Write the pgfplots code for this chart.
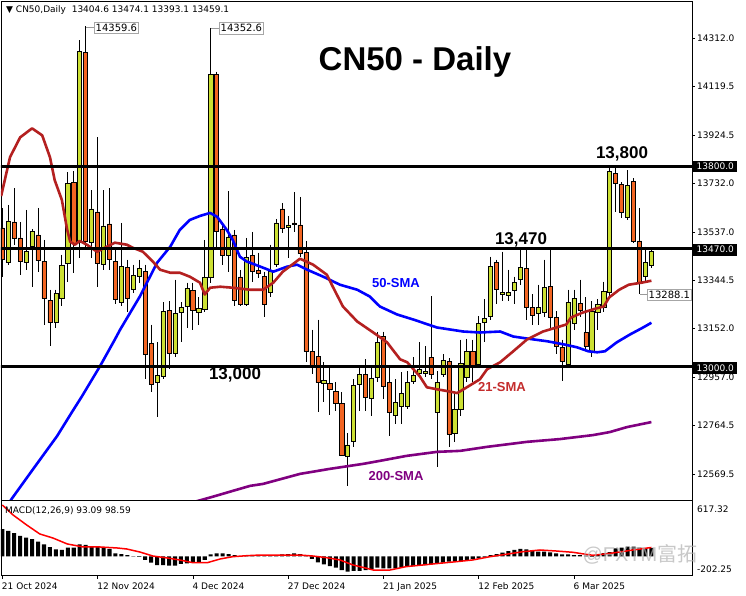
\documentclass[border=0pt]{standalone}
\usepackage{pgfplots}
\pgfplotsset{compat=1.18}
\usepackage{pgfplotstable}
\usepackage{fontspec}
\setmainfont{DejaVu Sans}
\newfontfamily\lsans{Liberation Sans}
\newfontfamily\cjk{Noto Sans CJK SC}
\definecolor{bullc}{RGB}{204,224,51}
\definecolor{bearc}{RGB}{242,101,34}
\definecolor{smaA}{RGB}{180,32,32}
\definecolor{smaAt}{RGB}{196,44,44}
\definecolor{smaC}{RGB}{128,0,128}

\pgfplotstableread{
i o h l c
0 13553 13633 13358 13426
1 13414 13645 13406 13581
2 13577 13712 13486 13513
3 13513 13577 13366 13418
4 13414 13625 13386 13458
5 13479 13549 13318 13538
6 13525 13633 13378 13422
7 13418 13505 13167 13271
8 13263 13306 13080 13175
9 13175 13306 13155 13291
10 13271 13446 13239 13402
11 13410 13776 13338 13732
12 13736 13780 13374 13490
13 13494 14304 13434 14258
14 14254 14359.6 13466 13498
15 13494 13704 13434 13629
16 13617 13915 13318 13410
17 13406 13704 13386 13561
18 13569 13712 13386 13426
19 13418 13466 13247 13267
20 13255 13573 13239 13398
21 13394 13426 13215 13271
22 13306 13406 13294 13362
23 13358 13426 13334 13390
24 13378 13406 12948 13048
25 13092 13167 12897 12928
26 12936 13096 12797 12964
27 12960 13255 12948 13219
28 13223 13259 12988 13052
29 13052 13346 13036 13211
30 13215 13255 13096 13235
31 13239 13334 13155 13310
32 13302 13334 13147 13223
33 13215 13275 13167 13231
34 13227 13505 13215 13354
35 13354 14352.6 13334 14166
36 14166 14178 13466 13541
37 13549 13577 13406 13442
38 13442 13700 13378 13517
39 13525 13545 13239 13263
40 13357 13385 13239 13247
41 13247 13513 13239 13434
42 13442 13537 13338 13378
43 13382 13454 13354 13370
44 13358 13378 13195 13247
45 13294 13486 13275 13378
46 13406 13589 13398 13573
47 13629 13653 13533 13553
48 13557 13601 13434 13565
49 13573 13696 13537 13569
50 13565 13677 13438 13450
51 13454 13501 13016 13060
52 13060 13147 12968 13004
53 13040 13187 12817 12936
54 12932 13016 12857 12944
55 12932 13000 12805 12908
56 12901 12936 12821 12853
57 12853 12897 12642 12646
58 12642 12733 12522 12686
59 12702 12948 12678 12924
60 12928 12996 12821 12968
61 12968 13028 12821 12877
62 12873 12996 12801 12952
63 12956 13139 12936 13096
64 13119 13139 12869 12920
65 12936 13000 12721 12817
66 12805 12948 12769 12857
67 12841 12976 12769 12893
68 12841 12980 12829 12936
69 12940 13036 12928 12964
70 12972 13096 12956 12988
71 12972 13080 12956 12980
72 13036 13279 12948 12968
73 12817 12980 12598 12936
74 12968 13048 12956 13024
75 13020 13032 12678 12729
76 12733 12888 12698 12829
77 12829 13107 12801 13012
78 12956 13111 12936 13060
79 13060 13107 12936 13000
80 13008 13199 13000 13171
81 13175 13267 13096 13191
82 13199 13438 13187 13398
83 13414 13426 13247 13306
84 13287 13458 13259 13294
85 13283 13386 13259 13294
86 13302 13358 13247 13334
87 13346 13466 13326 13394
88 13390 13466 13187 13235
89 13235 13287 13167 13203
90 13211 13326 13167 13235
91 13215 13426 13195 13314
92 13318 13466 13147 13195
93 13195 13219 13048 13080
94 13076 13107 12940 13020
95 13008 13306 12996 13255
96 13171 13306 13147 13271
97 13251 13346 13195 13223
98 13135 13275 13068 13080
99 13060 13259 13036 13219
100 13215 13267 13147 13247
101 13235 13338 13215 13298
102 13294 13792 13275 13780
103 13772 13796 13617 13732
104 13728 13736 13593 13617
105 13597 13784 13585 13724
106 13740 13752 13493 13501
107 13501 13633 13288.1 13334
108 13358 13478 13338 13414
109 13404.6 13474.1 13393.1 13459.1
}\candles

\pgfplotstableread{
i p
-0.2 13680
1.3 13836
3.0 13915
5.0 13951
6.7 13923
8.0 13836
8.8 13744
10.0 13665
10.9 13545
11.4 13498
12.2 13486
13.0 13501
14.2 13486
15.9 13458
16.9 13470
18.9 13494
20.9 13486
21.9 13474
23.6 13458
25.3 13418
26.5 13386
28.2 13374
29.8 13374
31.5 13358
33.2 13334
34.0 13287
34.9 13314
36.6 13318
38.7 13314
41.6 13306
43.8 13306
45.5 13334
47.1 13378
50.0 13430
52.2 13406
54.5 13366
55.5 13318
57.2 13239
59.6 13179
62.3 13135
64.6 13096
66.8 13028
68.0 13016
70.1 12960
71.3 12916
73.0 12908
74.7 12901
76.4 12893
78.0 12916
80.2 12948
81.4 12988
83.6 13016
85.8 13060
88.1 13107
90.8 13139
93.6 13159
94.7 13167
95.5 13195
97.5 13215
99.7 13231
101.0 13239
101.9 13275
103.6 13306
105.2 13326
107.3 13334
109.0 13342
}\smaAtab

\pgfplotstableread{
i p
0 12415
1.6 12471
5.2 12590
9.2 12721
11.7 12817
13.4 12881
16.4 13000
18.9 13107
19.8 13147
23.1 13279
26.0 13414
28.2 13478
29.8 13545
31.5 13585
33.2 13601
34.9 13613
36.1 13597
37.7 13545
38.7 13505
39.9 13438
41.1 13418
41.6 13414
43.8 13394
45.5 13378
47.8 13398
49.5 13406
51.2 13386
53.9 13358
56.7 13326
59.6 13306
61.7 13279
63.4 13239
66.3 13207
69.0 13187
73.0 13155
77.4 13139
80.2 13135
83.6 13139
85.8 13119
88.1 13111
91.5 13100
94.2 13088
96.5 13076
98.4 13060
99.9 13056
101.2 13060
103.2 13096
105.4 13127
107.6 13155
109.0 13174
}\smaBtab

\pgfplotstableread{
i p
30.0 12445
33.0 12463
35.4 12479
38.7 12502
41.6 12522
43.8 12530
50.0 12570
55.0 12590
60.6 12610
63.4 12622
67.9 12642
73.0 12658
76.9 12662
81.4 12678
88.1 12698
93.6 12709
99.2 12725
102.0 12737
104.9 12757
109.0 12777
}\smaCtab

\pgfplotstableread{
i v
0 300
1 279
2 254
3 224
4 205
5 191
6 162
7 133
8 101
9 79
10 71
11 96
12 96
13 133
14 126
15 107
16 101
17 96
18 82
19 35
20 27
21 16
22 5
23 -3
24 -38
25 -68
26 -93
27 -93
28 -101
29 -101
30 -82
31 -74
32 -68
33 -68
34 -38
35 24
36 35
37 35
38 27
39 16
40 -3
41 5
42 16
43 16
44 16
45 16
46 16
47 24
48 27
49 35
50 27
51 16
52 -27
53 -63
54 -85
55 -104
56 -122
57 -148
58 -166
59 -158
60 -158
61 -148
62 -137
63 -122
64 -129
65 -129
66 -129
67 -122
68 -111
69 -104
70 -93
71 -93
72 -85
73 -74
74 -68
75 -57
76 -57
77 -49
78 -38
79 -27
80 -20
81 -3
82 16
83 27
84 42
85 60
86 71
87 82
88 79
89 60
90 52
91 52
92 46
93 35
94 24
95 24
96 16
97 16
98 9
99 -3
100 16
101 38
102 49
103 90
104 96
105 107
106 107
107 98
108 90
109 93.09
}\macdhist

\pgfplotstableread{
i v
0 563
1.8 454
4.1 344
6.3 246
8.5 202
10.9 137
13.6 104
16.4 104
19.3 93
20.9 82
23.1 49
25.3 5
27.7 -16
29.8 -38
32.0 -68
34.4 -68
36.6 -27
38.7 -2
41.1 9
43.3 16
50.0 16
52.2 5
54.5 -13
56.7 -38
58.9 -93
61.2 -129
62.3 -148
65.1 -148
67.8 -111
70.6 -93
73.5 -74
76.2 -57
79.0 -38
81.9 -2
84.6 24
87.4 52
90.3 71
93.0 60
95.8 46
98.0 24
99.2 13
102.5 38
105.9 71
109.0 98.59
}\macdsig

\pgfplotsset{
  chartbox/.style={scale only axis, width=691pt, height=499pt,
    at={(1pt,96pt)}, anchor=south west,
    xmin=-0.218, xmax=115.82, ymin=12465.6, ymax=14460,
    enlargelimits=false},
}

\begin{document}
\begin{tikzpicture}
\path[use as bounding box, fill=white] (0,0) rectangle (746pt,596pt);

% wicks
\begin{axis}[chartbox, hide axis]
\addplot[draw=none, error bars/.cd, y dir=minus, y explicit, error mark=none,
  error bar style={draw=black, solid, line width=0.8pt}]
  table[x=i, y=h, y error minus expr={\thisrow{h}-\thisrow{l}}] {\candles};
\end{axis}

% bodies
\begin{axis}[chartbox, hide axis, ybar stacked, bar width=0.7]
\addplot[draw=none, fill=none] table[x=i, y expr={min(\thisrow{o},\thisrow{c})}] {\candles};
\addplot[draw=black, line width=0.6pt, fill=bullc] table[x=i, y expr={max(\thisrow{c}-\thisrow{o},0)}] {\candles};
\addplot[draw=black, line width=0.6pt, fill=bearc] table[x=i, y expr={max(\thisrow{o}-\thisrow{c},0)}] {\candles};
\end{axis}

% main
\begin{axis}[chartbox, clip mode=individual,
  axis line style={line width=0.8pt},
  xtick=\empty,
  ytick={12569.5,12764.5,12957,13152,13344.5,13537,13732,13924.5,14119.5,14312},
  scaled y ticks=false,
  ytick pos=right, yticklabel pos=right,
  tick align=outside, major tick length=3pt,
  ytick style={black, line width=0.6pt},
  yticklabel style={font=\fontsize{9}{10}\selectfont, inner xsep=2pt,
    /pgf/number format/.cd, fixed, fixed zerofill, precision=1, 1000 sep={}, assume math mode=true},
]
\addplot[smaC, line width=2.6pt, line join=round] table[x=i, y=p] {\smaCtab};
\addplot[blue, line width=2.6pt, line join=round] table[x=i, y=p] {\smaBtab};
\addplot[smaA, line width=2.6pt, line join=round] table[x=i, y=p] {\smaAtab};
\addplot[black, line width=3.2pt] coordinates {(-2,13800) (118,13800)};
\addplot[black, line width=3.2pt] coordinates {(-2,13470) (118,13470)};
\addplot[black, line width=3.2pt] coordinates {(-2,13000) (118,13000)};
\end{axis}

% MACD
\begin{axis}[scale only axis, width=691pt, height=75pt, at={(1pt,21pt)}, anchor=south west,
  xmin=-0.218, xmax=115.82, ymin=-202.25, ymax=617.32, enlargelimits=false,
  axis line style={line width=0.8pt},
  ytick=\empty,
  xtick={0,16,32,48,64,80,96},
  xticklabels={21 Oct 2024,12 Nov 2024,4 Dec 2024,27 Dec 2024,21 Jan 2025,12 Feb 2025,6 Mar 2025},
  xtick pos=left, tick align=outside, major tick length=4pt,
  xtick style={black, line width=0.6pt},
  xticklabel style={font=\fontsize{9}{10}\selectfont, anchor=north west, inner xsep=0pt, xshift=-0.5pt},
]
\addplot[ybar, bar width=0.68, fill=black, draw=none] table[x=i, y=v] {\macdhist};
\addplot[red, line width=1.5pt] table[x=i, y=v] {\macdsig};
\end{axis}

% annotations
\node[anchor=west, font=\fontsize{9}{10}\selectfont, inner sep=0pt] at (6pt,586pt) {▼ CN50,Daily\ \ 13404.6 13474.1 13393.1 13459.1};
\node[anchor=base, font=\lsans\bfseries\fontsize{33}{36}\selectfont] at (415pt,525pt) {CN50 - Daily};
\node[anchor=base, font=\lsans\bfseries\fontsize{17}{20}\selectfont] at (622pt,437pt) {13,800};
\node[anchor=base, font=\lsans\bfseries\fontsize{17}{20}\selectfont] at (521pt,351pt) {13,470};
\node[anchor=base, font=\lsans\bfseries\fontsize{17}{20}\selectfont] at (235pt,216pt) {13,000};
\node[anchor=base, text=blue, font=\lsans\bfseries\fontsize{13}{15}\selectfont] at (396pt,308pt) {50-SMA};
\node[anchor=base, text=smaAt, font=\lsans\bfseries\fontsize{13}{15}\selectfont] at (502pt,204.3pt) {21-SMA};
\node[anchor=base, text=smaC, font=\lsans\bfseries\fontsize{13}{15}\selectfont] at (396pt,115.3pt) {200-SMA};

\node[anchor=west, fill=black, text=white, font=\fontsize{9}{10}\selectfont, inner xsep=3.5pt, inner ysep=2.5pt] at (693pt,429.5pt) {13800.0};
\node[anchor=west, fill=black, text=white, font=\fontsize{9}{10}\selectfont, inner xsep=3.5pt, inner ysep=2.5pt] at (693pt,346.3pt) {13470.0};
\node[anchor=west, fill=black, text=white, font=\fontsize{9}{10}\selectfont, inner xsep=3.5pt, inner ysep=2.5pt] at (693pt,228pt) {13000.0};

\draw[gray!80, line width=0.7pt] (86pt,569pt) -- (94pt,569pt);
\node[anchor=west, fill=white, draw=gray!70, font=\fontsize{10}{11}\selectfont, inner xsep=1.5pt, inner ysep=2pt] at (94pt,568.5pt) {14359.6};
\draw[gray!80, line width=0.7pt] (211pt,568pt) -- (219pt,568pt);
\node[anchor=west, fill=white, draw=gray!70, font=\fontsize{10}{11}\selectfont, inner xsep=1.5pt, inner ysep=2pt] at (219pt,568pt) {14352.6};
\draw[gray!80, line width=0.7pt] (640pt,302pt) -- (648pt,302pt);
\node[anchor=west, fill=white, draw=gray!70, font=\fontsize{10}{11}\selectfont, inner xsep=1.5pt, inner ysep=2pt] at (647pt,301.5pt) {13288.1};

\node[anchor=west, font=\fontsize{9}{10}\selectfont, inner sep=0pt] at (5pt,85pt) {MACD(12,26,9) 93.09 98.59};
\node[anchor=west, font=\fontsize{9}{10}\selectfont, inner sep=0pt] at (697pt,87pt) {617.32};
\node[anchor=west, font=\fontsize{9}{10}\selectfont, inner sep=0pt] at (697pt,27pt) {-202.25};

\node[text=gray!60, opacity=0.7, font=\lsans\fontsize{20}{22}\selectfont] at (640pt,42pt) {@FXTM{\cjk 富拓}};
\end{tikzpicture}
\end{document}
